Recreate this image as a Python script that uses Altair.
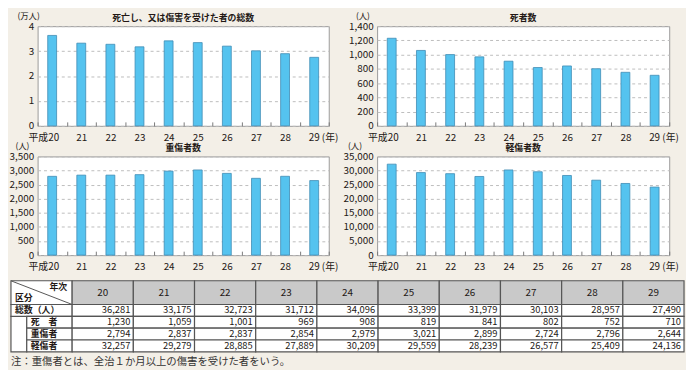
import altair as alt
import pandas as pd

# ---- data ----
years = ["20", "21", "22", "23", "24", "25", "26", "27", "28", "29"]
total = [36281, 33175, 32723, 31712, 34096, 33399, 31979, 30103, 28957, 27490]
deaths = [1230, 1059, 1001, 969, 908, 819, 841, 802, 752, 710]
serious = [2794, 2837, 2837, 2854, 2979, 3021, 2899, 2724, 2796, 2644]
minor = [32257, 29279, 28885, 27889, 30209, 29559, 28239, 26577, 25409, 24136]

panel_titles = ["死亡し、又は傷害を受けた者の総数", "死者数", "重傷者数", "軽傷者数"]
unit_labels = ["(万人)", "(人)", "(人)", "(人)"]
y_max = [4, 1400, 3500, 35000]
y_step = [1, 200, 500, 5000]
row_labels = ["総数（人）", "死　者", "重傷者", "軽傷者"]
header_corner = ["年次", "区分"]
note = "注：重傷者とは、全治１か月以上の傷害を受けた者をいう。"

# ---- styles ----
FONT = "Noto Sans CJK JP"
TXT = "#231815"
BG = "#f3efe7"
BAR = "#55c3ef"
BAR_EDGE = "#3f8cb4"
GRID = "#bdbdbd"
FRAME = "#9a9a9a"
LINE = "#555555"
HEAD = "#c9c9c9"

label_expr = ("datum.value == '20' ? '平成20' : "
              "(datum.value == '29' ? '29 (年)' : datum.label)")
label_offset = {"condition": [{"test": "datum.value == '20'", "value": -9},
                              {"test": "datum.value == '29'", "value": 9}],
                "value": 0}


def panel(values, title, unit, ymax, ystep, divisor, width, height, unit_x):
    df = pd.DataFrame({"year": years, "n": values})
    return alt.Chart(df).transform_calculate(
        val=f"datum.n / {divisor}"
    ).mark_bar(size=9, fill=BAR, stroke=BAR_EDGE, strokeWidth=0.8).encode(
        x=alt.X("year:N", sort=years,
                scale=alt.Scale(paddingInner=0, paddingOuter=0),
                axis=alt.Axis(title=None, domain=False, grid=False, labelAngle=0,
                              labelFont=FONT, labelFontSize=10, labelColor=TXT,
                              labelPadding=11, labelOverlap=False,
                              labelExpr=label_expr, labelOffset=label_offset,
                              tickBand="extent", tickSize={"expr": "-4"},
                              tickColor="#7a7a7a", tickWidth=1)),
        y=alt.Y("val:Q", scale=alt.Scale(domain=[0, ymax], nice=False),
                axis=alt.Axis(title=unit, titleAngle=0, titleAlign="left",
                              titleBaseline="top", titleX=unit_x, titleY=-15,
                              titleFont=FONT, titleFontSize=8.5, titleFontWeight="normal",
                              titleColor=TXT,
                              values=list(range(0, ymax + ystep, ystep)), format=",d",
                              labelFont=FONT, labelFontSize=10, labelColor=TXT,
                              labelPadding=4, ticks=False, domain=False,
                              grid=True, gridDash=[3, 3], gridColor=GRID, gridWidth=1)),
    ).properties(
        width=width, height=height,
        title=alt.TitleParams(text=title, font=FONT, fontSize=9, fontWeight="bold",
                              color=TXT, anchor="middle", offset=-12),
        view=alt.ViewBackground(fill="white", stroke=FRAME, strokeWidth=1),
    )


p1 = panel(total, panel_titles[0], unit_labels[0], y_max[0], y_step[0], 10000, 295, 101, -21)
p2 = panel(deaths, panel_titles[1], unit_labels[1], y_max[1], y_step[1], 1, 296, 101, -22)
p3 = panel(serious, panel_titles[2], unit_labels[2], y_max[2], y_step[2], 1, 295, 100, -23)
p4 = panel(minor, panel_titles[3], unit_labels[3], y_max[3], y_step[3], 1, 296, 100, -30)

# ---- table ----
SUB = -0.742  # start of the indented sub-label cells (in column units)
XS = alt.Scale(domain=[-1, 10], range=[-27, 655], nice=False, zero=False)
YS = alt.Scale(domain=[0, 6], range=[-5, 67], nice=False, zero=False)


def xq(f):
    return alt.X(f"{f}:Q", scale=XS, axis=None)


def yq(f):
    return alt.Y(f"{f}:Q", scale=YS, axis=None)


head_df = pd.DataFrame({"c0": list(range(10)), "c1": list(range(1, 11)),
                        "r0": 0, "r1": 2,
                        "cx": [i + 0.5 for i in range(10)], "cy": 1, "txt": years})
cells = []
labels = []
for r, (lab, vals) in enumerate(zip(row_labels, [total, deaths, serious, minor])):
    labels.append({"c0": -1 if r == 0 else SUB, "c1": 0, "r0": r + 2, "r1": r + 3,
                   "cy": r + 2.5, "txt": lab})
    for i, v in enumerate(vals):
        cells.append({"c0": i, "c1": i + 1, "r0": r + 2, "r1": r + 3,
                      "cy": r + 2.5, "txt": f"{v:,}"})
cells_df = pd.DataFrame(cells)
labels_df = pd.DataFrame(labels)
corner_df = pd.DataFrame({"c0": [-1], "c1": [0], "r0": [0], "r1": [2]})
blank_df = pd.DataFrame({"c0": [-1], "c1": [SUB], "r0": [3], "r1": [6]})
corner_txt = pd.DataFrame({"x": [0, -1], "y": [0.55, 1.45], "txt": header_corner,
                           "side": ["r", "l"]})

rect_kw = dict(stroke=LINE, strokeWidth=1.2)
t_corner = alt.Chart(corner_df).mark_rect(fill="white", **rect_kw).encode(
    x=xq("c0"), x2="c1", y=yq("r0"), y2="r1")
t_head = alt.Chart(head_df).mark_rect(fill=HEAD, **rect_kw).encode(
    x=xq("c0"), x2="c1", y=yq("r0"), y2="r1")
t_blank = alt.Chart(blank_df).mark_rect(fill="white", **rect_kw).encode(
    x=xq("c0"), x2="c1", y=yq("r0"), y2="r1")
t_lab = alt.Chart(labels_df).mark_rect(fill="white", **rect_kw).encode(
    x=xq("c0"), x2="c1", y=yq("r0"), y2="r1")
t_cell = alt.Chart(cells_df).mark_rect(fill="white", **rect_kw).encode(
    x=xq("c0"), x2="c1", y=yq("r0"), y2="r1")
t_diag = alt.Chart(corner_df).mark_rule(color=LINE, strokeWidth=1).encode(
    x=xq("c0"), x2="c1", y=yq("r0"), y2="r1")
t_head_txt = alt.Chart(head_df).mark_text(font=FONT, fontSize=10, color=TXT,
                                          align="center", baseline="middle").encode(
    x=xq("cx"), y=yq("cy"), text="txt:N")
t_corner_r = alt.Chart(corner_txt).transform_filter("datum.side == 'r'").mark_text(
    font=FONT, fontSize=9, color=TXT, fontWeight="bold", align="right",
    baseline="middle", dx=-5).encode(x=xq("x"), y=yq("y"), text="txt:N")
t_corner_l = alt.Chart(corner_txt).transform_filter("datum.side == 'l'").mark_text(
    font=FONT, fontSize=9, color=TXT, fontWeight="bold", align="left",
    baseline="middle", dx=4).encode(x=xq("x"), y=yq("y"), text="txt:N")
t_lab_txt = alt.Chart(labels_df).mark_text(font=FONT, fontSize=9, color=TXT,
                                           fontWeight="bold", align="left",
                                           baseline="middle", dx=4).encode(
    x=xq("c0"), y=yq("cy"), text="txt:N")
t_cell_txt = alt.Chart(cells_df).mark_text(font=FONT, fontSize=9.5, color=TXT,
                                           align="right", baseline="middle",
                                           dx=-3).encode(
    x=xq("c1"), y=yq("cy"), text="txt:N")

table = alt.layer(t_corner, t_head, t_blank, t_lab, t_cell, t_diag, t_head_txt,
                  t_corner_r, t_corner_l, t_lab_txt, t_cell_txt).properties(
    width=295, height=72,
    title=alt.TitleParams(text=note, orient="bottom", anchor="start", frame="group",
                          dx=-27, offset=0, font=FONT, fontSize=10.5,
                          fontWeight="normal", color="#333333"),
    view=alt.ViewBackground(fill="transparent", stroke="transparent"),
)

chart = alt.concat(p1, p2, p3, p4, table, columns=2,
                   spacing={"row": 31, "column": 49}, bounds="flush").properties(
    background=BG, padding=0
).configure_view(stroke="transparent")

chart.save("out.html", embed_options={"renderer": "svg", "actions": False})
